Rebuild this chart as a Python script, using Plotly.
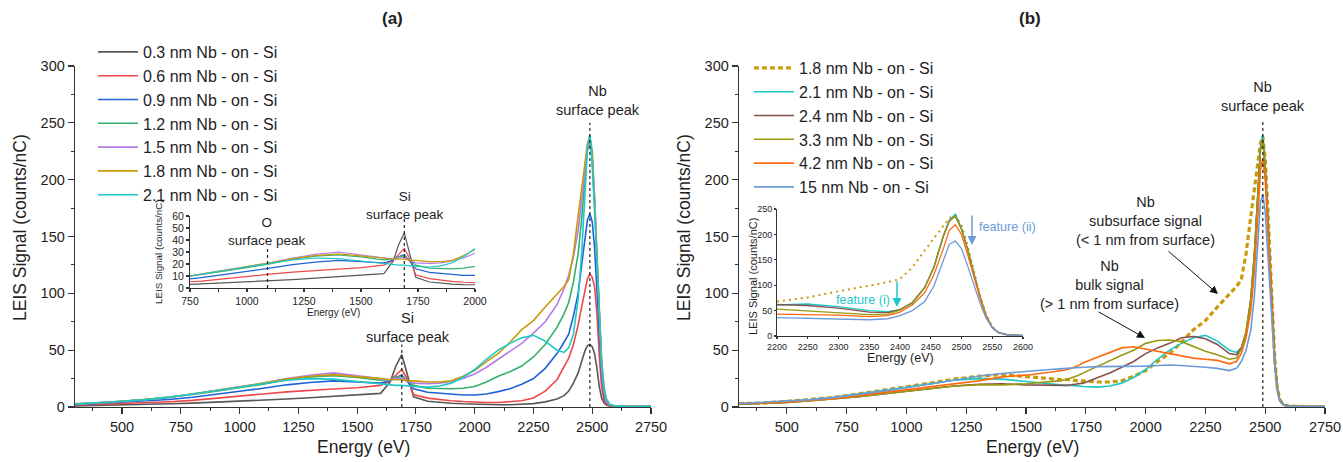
import plotly.graph_objects as go

# ---------------- data (energy grid shared by all spectra) ----------------
ENERGY_EV = [300, 400, 500, 600, 700, 800, 900, 1000,
             1100, 1200, 1300, 1400, 1500, 1600,
             1640, 1665, 1690, 1715, 1740,
             1800, 1850, 1900, 1950, 2000,
             2050, 2100, 2150, 2200, 2250,
             2300, 2350, 2380, 2400, 2420,
             2440, 2455, 2470, 2480, 2490,
             2500, 2510, 2520, 2530, 2540,
             2550, 2560, 2575, 2600, 2650,
             2750]

NB_03 = [1.0, 1.3, 1.8, 2.3, 2.8, 3.4, 4.2, 5.0,
         6.0, 7.0, 8.2, 9.4, 10.6, 12.0,
         22.0, 36.0, 46.0, 28.0, 9.0,
         5.0, 4.0, 3.3, 2.8, 2.4,
         2.2, 2.0, 2.0, 2.3, 3.0,
         4.5, 7.0, 10.0, 14.0, 21.0,
         30.0, 40.0, 50.0, 54.0, 55.0,
         53.0, 47.0, 34.0, 18.0, 8.0,
         3.5, 1.8, 0.8, 0.4, 0.3,
         0.3]
NB_06 = [1.5, 2.2, 3.0, 3.8, 4.6, 5.8, 7.5, 9.5,
         11.5, 13.3, 14.8, 15.8, 17.0, 19.0,
         23.0, 28.0, 33.0, 24.0, 11.0,
         7.8, 6.5, 5.5, 4.8, 4.2,
         4.0, 4.0, 4.5, 5.5, 8.0,
         14.0, 24.0, 35.0, 43.0, 55.0,
         72.0, 88.0, 104.0, 113.0, 117.0,
         114.0, 106.0, 82.0, 45.0, 17.0,
         6.0, 2.5, 1.0, 0.5, 0.3,
         0.3]
NB_09 = [2.0, 3.0, 4.0, 5.2, 6.6, 8.6, 11.0, 13.8,
         16.5, 19.5, 21.5, 23.0, 22.0, 21.0,
         23.0, 26.0, 28.0, 22.0, 16.0,
         13.0, 12.0, 11.0, 10.5, 10.5,
         11.5, 13.5, 16.0, 20.0, 25.0,
         34.0, 47.0, 57.0, 64.0, 80.0,
         100.0, 125.0, 150.0, 165.0, 170.0,
         163.0, 140.0, 105.0, 62.0, 28.0,
         10.0, 4.0, 1.5, 0.6, 0.4,
         0.3]
NB_12 = [2.5, 3.5, 5.0, 6.5, 8.5, 11.0, 14.0, 17.0,
         20.0, 24.0, 26.5, 27.5, 26.0, 23.5,
         24.0, 26.0, 27.0, 23.0, 19.0,
         16.5, 16.0, 16.0, 16.5, 18.0,
         22.0, 27.0, 31.0, 36.0, 44.0,
         55.0, 70.0, 82.0, 92.0, 110.0,
         135.0, 165.0, 205.0, 230.0, 238.0,
         225.0, 185.0, 130.0, 75.0, 35.0,
         13.0, 5.0, 1.8, 0.7, 0.4,
         0.3]
NB_15 = [2.5, 3.5, 5.0, 6.5, 8.5, 11.5, 14.5, 17.5,
         21.0, 25.0, 28.0, 30.0, 27.5, 24.5,
         24.0, 25.0, 25.5, 23.0, 21.0,
         20.5, 21.0, 22.5, 25.0, 29.0,
         35.0, 42.0, 49.0, 56.0, 65.0,
         75.0, 90.0, 104.0, 116.0, 132.0,
         155.0, 180.0, 208.0, 226.0, 232.0,
         220.0, 182.0, 128.0, 74.0, 34.0,
         13.0, 5.0, 1.8, 0.7, 0.4,
         0.3]
NB_18 = [3.0, 3.5, 5.0, 6.5, 8.5, 11.5, 14.5, 17.5,
         21.0, 24.5, 27.0, 28.5, 27.0, 25.0,
         24.0, 24.0, 24.0, 23.0, 23.0,
         22.0, 22.0, 23.0, 27.0, 32.0,
         40.0, 47.0, 57.0, 68.0, 76.0,
         88.0, 99.0, 106.0, 112.0, 135.0,
         168.0, 192.0, 218.0, 232.0, 238.0,
         218.0, 178.0, 128.0, 80.0, 42.0,
         18.0, 7.0, 2.0, 0.8, 0.4,
         0.3]
NB_21 = [2.5, 3.5, 5.0, 6.5, 8.5, 11.5, 14.5, 17.5,
         20.5, 23.5, 25.0, 24.5, 22.5, 20.0,
         19.5, 19.0, 19.0, 18.5, 18.0,
         17.5, 18.5, 21.0, 26.0, 33.0,
         42.0, 50.0, 56.0, 61.0, 63.0,
         58.0, 50.0, 48.0, 52.0, 64.0,
         95.0, 135.0, 195.0, 228.0, 240.0,
         212.0, 172.0, 125.0, 78.0, 40.0,
         17.0, 7.0, 2.2, 0.8, 0.4,
         0.3]
NB_24 = [2.5, 3.0, 4.0, 5.5, 7.0, 9.0, 11.5, 14.0,
         16.5, 18.5, 20.0, 20.5, 19.5, 19.0,
         19.0, 19.0, 19.5, 20.0, 21.0,
         26.0, 30.0, 35.0, 40.0, 47.0,
         52.0, 56.0, 61.0, 62.0, 60.0,
         55.0, 47.0, 46.0, 52.0, 66.0,
         95.0, 135.0, 195.0, 226.0, 236.0,
         210.0, 170.0, 122.0, 78.0, 40.0,
         17.0, 7.0, 2.2, 0.8, 0.4,
         0.3]
NB_33 = [2.5, 3.0, 4.0, 5.5, 7.0, 9.0, 11.5, 14.0,
         16.5, 18.5, 19.5, 19.5, 20.5, 22.0,
         23.0, 24.0, 25.5, 27.5, 30.0,
         36.0, 41.0, 45.5, 50.0, 56.0,
         58.5, 59.0, 57.5, 53.0, 49.0,
         46.0, 42.0, 43.0, 51.0, 66.0,
         95.0, 135.0, 195.0, 226.0, 236.0,
         210.0, 170.0, 122.0, 78.0, 40.0,
         17.0, 7.0, 2.2, 0.8, 0.4,
         0.3]
NB_42 = [3.0, 3.5, 4.5, 6.0, 7.5, 10.0, 12.5, 15.0,
         17.5, 20.0, 23.0, 26.5, 28.0, 30.5,
         31.5, 32.5, 34.0, 36.0, 39.0,
         44.0, 48.5, 52.0, 53.0, 51.0,
         49.5, 47.0, 45.0, 43.0, 42.0,
         41.0, 38.0, 40.0, 47.0, 61.0,
         85.0, 120.0, 170.0, 208.0, 219.0,
         200.0, 160.0, 115.0, 75.0, 38.0,
         16.0, 6.5, 2.0, 0.8, 0.4,
         0.3]
NB_150 = [3.0, 4.0, 5.0, 6.5, 8.5, 11.0, 14.0, 17.0,
          20.5, 24.0, 27.0, 29.5, 31.5, 33.0,
          33.5, 34.0, 34.0, 34.5, 35.0,
          35.5, 35.5, 35.5, 35.5, 36.0,
          36.5, 37.0, 36.5, 36.0, 35.0,
          34.0, 32.0, 34.0, 40.0, 50.0,
          68.0, 98.0, 145.0, 180.0, 187.0,
          172.0, 138.0, 100.0, 65.0, 35.0,
          16.0, 6.5, 2.0, 0.8, 0.4,
          0.3]

LEFT_LABELS = ["0.3 nm Nb - on - Si", "0.6 nm Nb - on - Si", "0.9 nm Nb - on - Si",
               "1.2 nm Nb - on - Si", "1.5 nm Nb - on - Si", "1.8 nm Nb - on - Si",
               "2.1 nm Nb - on - Si"]
LEFT_DATA = [NB_03, NB_06, NB_09, NB_12, NB_15, NB_18, NB_21]
RIGHT_LABELS = ["1.8 nm Nb - on - Si", "2.1 nm Nb - on - Si", "2.4 nm Nb - on - Si",
                "3.3 nm Nb - on - Si", "4.2 nm Nb - on - Si", "15 nm Nb - on - Si"]
RIGHT_DATA = [NB_18, NB_21, NB_24, NB_33, NB_42, NB_150]

MAIN_X_TICKS = [500, 750, 1000, 1250, 1500, 1750, 2000, 2250, 2500, 2750]
MAIN_Y_TICKS = [0, 50, 100, 150, 200, 250, 300]
INSET_A_X_TICKS = [750, 1000, 1250, 1500, 1750, 2000]
INSET_A_Y_TICKS = [0, 10, 20, 30, 40, 50, 60]
INSET_B_X_TICKS = [2200, 2250, 2300, 2350, 2400, 2450, 2500, 2550, 2600]
INSET_B_Y_TICKS = [0, 50, 100, 150, 200, 250]

NB_PEAK_EV = 2490
SI_PEAK_EV = 1690
O_PEAK_EV = 1090

# ---------------- styles ----------------
LEFT_COLORS = ["#585858", "#f04848", "#1f62d8", "#35b06a", "#b47ce8", "#c99a0c", "#1cc8c8"]
RIGHT_COLORS = ["#c99a0c", "#1cc8c8", "#87504f", "#999910", "#ff6a10", "#6b9bd8"]
RIGHT_DASH_MAIN = ["5px,3px", "solid", "solid", "solid", "solid", "solid"]
RIGHT_WIDTH_MAIN = [3.2, 1.6, 1.6, 1.6, 1.6, 1.6]
RIGHT_DASH_INSET = ["2px,4px", "solid", "solid", "solid", "solid", "solid"]
RIGHT_WIDTH_INSET = [2.0, 1.3, 1.3, 1.3, 1.3, 1.3]

W, H = 1343, 462
FONT = "Arial"
TXT = "#1e1e1e"


def fx(p):
    return p / W


def fy(p):
    return 1 - p / H


fig = go.Figure()

for lab, ys, col in zip(LEFT_LABELS, LEFT_DATA, LEFT_COLORS):
    fig.add_trace(go.Scatter(x=ENERGY_EV, y=ys, mode="lines", name=lab,
                             line=dict(color=col, width=1.6),
                             xaxis="x", yaxis="y", legend="legend"))
for lab, ys, col in zip(LEFT_LABELS, LEFT_DATA, LEFT_COLORS):
    fig.add_trace(go.Scatter(x=ENERGY_EV, y=ys, mode="lines", name=lab,
                             line=dict(color=col, width=1.2), showlegend=False,
                             xaxis="x2", yaxis="y2"))
for lab, ys, col, d, w in zip(RIGHT_LABELS, RIGHT_DATA, RIGHT_COLORS, RIGHT_DASH_MAIN, RIGHT_WIDTH_MAIN):
    fig.add_trace(go.Scatter(x=ENERGY_EV, y=ys, mode="lines", name=lab,
                             line=dict(color=col, width=w, dash=d),
                             xaxis="x3", yaxis="y3", legend="legend2"))
for lab, ys, col, d, w in zip(RIGHT_LABELS, RIGHT_DATA, RIGHT_COLORS, RIGHT_DASH_INSET, RIGHT_WIDTH_INSET):
    fig.add_trace(go.Scatter(x=ENERGY_EV, y=ys, mode="lines", name=lab,
                             line=dict(color=col, width=w, dash=d), showlegend=False,
                             xaxis="x4", yaxis="y4"))


def ax(domain, rng, tickvals, size, anchor, ticklen=6, minor=None, lw=1.3):
    d = dict(domain=domain, range=rng, tickmode="array", tickvals=tickvals,
             showline=True, linecolor="#333", linewidth=lw, ticks="outside",
             ticklen=ticklen, tickwidth=1.1, tickcolor="#333", showgrid=False,
             zeroline=False, automargin=False, fixedrange=True, anchor=anchor,
             tickfont=dict(family=FONT, size=size, color=TXT))
    if minor is not None:
        d["minor"] = dict(ticks="outside", dtick=minor, tick0=0, ticklen=3,
                          tickcolor="#333", tickwidth=1, showgrid=False)
    return d


MAIN_Y_DOM = [fy(407), fy(66)]
layout = dict(
    width=W, height=H, autosize=False,
    margin=dict(l=0, r=0, t=0, b=0),
    paper_bgcolor="white", plot_bgcolor="white",
    showlegend=True, hovermode=False,
    xaxis=ax([fx(75), fx(651)], [300, 2750], MAIN_X_TICKS, 14.5, "y", minor=125),
    yaxis=ax(MAIN_Y_DOM, [0, 300], MAIN_Y_TICKS, 14.5, "x", minor=25),
    xaxis2=ax([fx(190), fx(475)], [750, 2000], INSET_A_X_TICKS, 10.5, "y2", ticklen=3, minor=125, lw=1),
    yaxis2=ax([fy(288), fy(216)], [0, 60], INSET_A_Y_TICKS, 10.5, "x2", ticklen=3, lw=1),
    xaxis3=ax([fx(739), fx(1325)], [300, 2750], MAIN_X_TICKS, 14.5, "y3", minor=125),
    yaxis3=ax(MAIN_Y_DOM, [0, 300], MAIN_Y_TICKS, 14.5, "x3", minor=25),
    xaxis4=ax([fx(777), fx(1023)], [2200, 2600], INSET_B_X_TICKS, 9, "y4", ticklen=2, lw=1),
    yaxis4=ax([fy(336), fy(209)], [0, 250], INSET_B_Y_TICKS, 9, "x4", ticklen=2, lw=1),
    legend=dict(x=fx(93), y=fy(35), xanchor="left", yanchor="top",
                font=dict(family=FONT, size=16, color=TXT),
                bgcolor="rgba(0,0,0,0)", borderwidth=0, itemwidth=40, tracegroupgap=0),
    legend2=dict(x=fx(749), y=fy(51), xanchor="left", yanchor="top",
                 font=dict(family=FONT, size=16, color=TXT),
                 bgcolor="rgba(0,0,0,0)", borderwidth=0, itemwidth=40, tracegroupgap=0),
)
fig.update_layout(**layout)

# reference lines at the surface-peak energies
shapes = [
    dict(type="line", xref="x", yref="y", x0=NB_PEAK_EV, x1=NB_PEAK_EV, y0=0, y1=250,
         line=dict(color="#222", width=1.2, dash="dot")),
    dict(type="line", xref="x", yref="y", x0=SI_PEAK_EV, x1=SI_PEAK_EV, y0=0, y1=55,
         line=dict(color="#222", width=1.2, dash="3px,3px")),
    dict(type="line", xref="x2", yref="y2", x0=O_PEAK_EV, x1=O_PEAK_EV, y0=0, y1=33,
         line=dict(color="#222", width=1.2, dash="3px,3px")),
    dict(type="line", xref="x2", yref="y2", x0=SI_PEAK_EV, x1=SI_PEAK_EV, y0=0, y1=58,
         line=dict(color="#222", width=1.2, dash="3px,3px")),
    dict(type="line", xref="x3", yref="y3", x0=NB_PEAK_EV, x1=NB_PEAK_EV, y0=0, y1=252,
         line=dict(color="#222", width=1.2, dash="dot")),
]
fig.update_layout(shapes=shapes)


def note(text, x, y, size=14.5, color=TXT, bold=False, angle=0):
    t = f"<b>{text}</b>" if bold else text
    return dict(text=t, x=fx(x), y=fy(y), xref="paper", yref="paper",
                xanchor="center", yanchor="middle", showarrow=False, textangle=angle,
                font=dict(family=FONT, size=size, color=color))


def arrow(xh, yh, dx, dy, color="#111", width=1.0, size=1.6):
    return dict(text="", x=fx(xh), y=fy(yh), xref="paper", yref="paper",
                showarrow=True, ax=dx, ay=dy, arrowhead=2, arrowsize=size,
                arrowwidth=width, arrowcolor=color, standoff=0)


annotations = [
    note("(a)", 393, 18, size=17, bold=True),
    note("(b)", 1030, 18, size=17, bold=True),
    note("LEIS Signal (counts/nC)", 20, 228, size=17.5, angle=-90),
    note("LEIS Signal (counts/nC)", 684, 228, size=17.5, angle=-90),
    note("Energy (eV)", 363, 447, size=17.5),
    note("Energy (eV)", 1032, 447, size=17.5),
    note("LEIS Signal (counts/nC)", 159, 252, size=9.8, angle=-90),
    note("Energy (eV)", 333, 312, size=10),
    note("LEIS Signal (counts/nC)", 753, 276, size=11, angle=-90),
    note("Energy (eV)", 900, 358, size=12.5),
    note("Nb<br>surface peak", 598, 101),
    note("Si<br>surface peak", 408, 327),
    note("Si<br>surface peak", 405, 205, size=13.5),
    note("O<br>surface peak", 267, 231, size=13.5),
    note("Nb<br>surface peak", 1263, 96),
    note("Nb<br>subsurface signal<br>(< 1 nm from surface)", 1145, 221),
    note("Nb<br>bulk signal<br>(> 1 nm from surface)", 1109, 285),
    note("feature (ii)", 1007, 227, size=12.6, color="#6b9bd8"),
    note("feature (i)", 863, 300, size=12.6, color="#1cc8c8"),
    arrow(1218, 294, -51, -44),
    arrow(1145, 338, -48, -27),
    arrow(972, 245, 0, -31, color="#6b9bd8", width=1.5, size=1.2),
    arrow(897, 307, 0, -27, color="#1cc8c8", width=1.5, size=1.2),
]
fig.update_layout(annotations=annotations)

fig.write_html(
    "out.html",
    config={"displayModeBar": False, "staticPlot": True},
    post_script="document.documentElement.style.margin='0';"
                "document.body.style.margin='0';document.body.style.padding='0';"
                "document.body.style.overflow='hidden';",
)
